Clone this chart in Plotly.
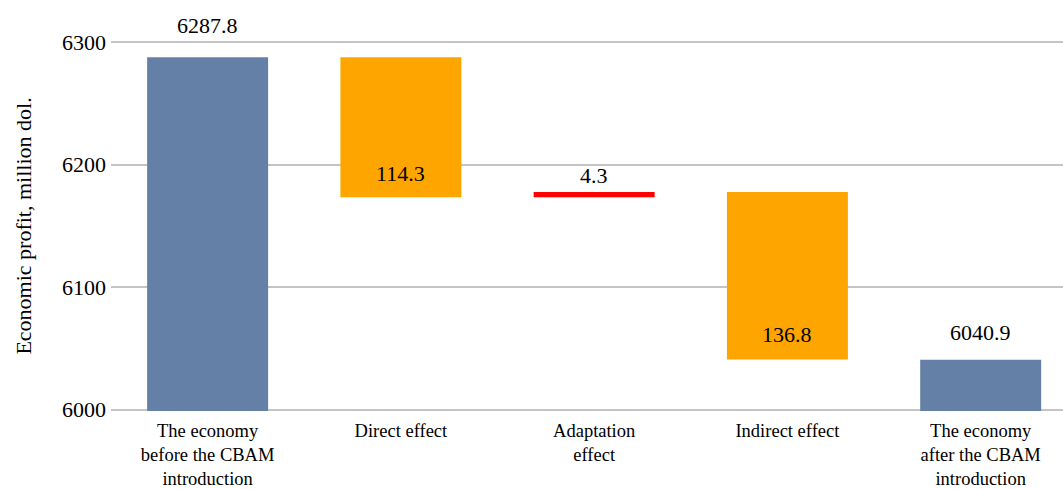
import plotly.graph_objects as go

# Decomposition of the economic profit change (million dol.)
categories = [
    "The economy<br>before the CBAM<br>introduction",
    "Direct effect",
    "Adaptation<br>effect",
    "Indirect effect",
    "The economy<br>after the CBAM<br>introduction",
]
values = [6287.8, -114.3, 4.3, -136.8, 6040.9]
measures = ["absolute", "relative", "relative", "relative", "total"]
labels = ["6287.8", "114.3", "4.3", "136.8", "6040.9"]

COL_TOTAL = "#6580a6"
COL_DOWN = "#ffa500"
COL_UP = "#ff0000"
SERIF = "Liberation Serif"

# label placement: pixel offset (upwards) from the bar end it is attached to
label_offsets_px = [32, 24, 16, 25, 27]

# Floating bars: totals start at zero, effects hang from the running level
bases, heights, colors, anchor_y = [], [], [], []
level = 0.0
for v, m in zip(values, measures):
    if m in ("absolute", "total"):
        level = v
        bases.append(0.0)
        heights.append(v)
        colors.append(COL_TOTAL)
        anchor_y.append(v)          # above the top end
    else:
        new_level = level + v
        lo, hi = min(level, new_level), max(level, new_level)
        bases.append(lo)
        heights.append(hi - lo)
        if v < 0:
            colors.append(COL_DOWN)
            anchor_y.append(lo)     # inside, near the bottom end
        else:
            colors.append(COL_UP)
            anchor_y.append(hi)     # above the top end
        level = new_level

xs = list(range(len(categories)))

fig = go.Figure(
    go.Bar(
        x=xs,
        y=heights,
        base=bases,
        width=0.626,
        marker=dict(color=colors, line=dict(width=0)),
        hoverinfo="skip",
    )
)

for x, y, txt, off in zip(xs, anchor_y, labels, label_offsets_px):
    fig.add_annotation(
        x=x, y=y, text=txt, showarrow=False,
        xanchor="center", yanchor="middle", yshift=off,
        font=dict(family=SERIF, size=22, color="#000000"),
    )

fig.update_layout(
    width=1063,
    height=489,
    margin=dict(l=111, r=0, t=41, b=78, autoexpand=False),
    paper_bgcolor="white",
    plot_bgcolor="white",
    showlegend=False,
    font=dict(family=SERIF, color="#000000"),
    xaxis=dict(
        tickmode="array",
        tickvals=xs,
        ticktext=categories,
        range=[-0.5, 4.426],
        showgrid=False,
        zeroline=False,
        showline=False,
        ticks="",
        automargin=False,
        ticklabelstandoff=6,
        tickfont=dict(family=SERIF, size=18.5, color="#000000"),
    ),
    yaxis=dict(
        range=[5999, 6301],
        tickvals=[6000, 6100, 6200, 6300],
        showgrid=True,
        gridcolor="#c4c4c4",
        gridwidth=1.6,
        zeroline=False,
        showline=False,
        ticks="",
        automargin=False,
        ticklabelstandoff=4,
        tickfont=dict(family=SERIF, size=22, color="#000000"),
        title=dict(
            text="Economic profit, million dol.",
            font=dict(family=SERIF, size=22, color="#000000"),
            standoff=24,
        ),
    ),
)

fig.write_html("out.html")
